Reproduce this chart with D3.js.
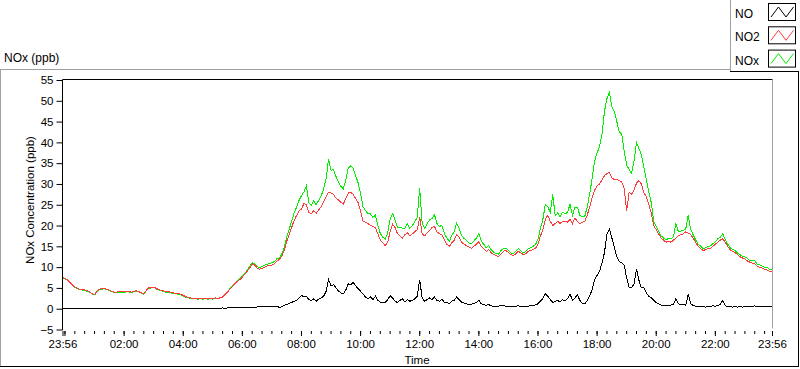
<!DOCTYPE html>
<html>
<head>
<meta charset="utf-8">
<script src="https://cdn.jsdelivr.net/npm/d3@7"></script>
<style>
    body { margin: 0; background: #fff; }
    text { font-family: "Liberation Sans", Arial, sans-serif; }
</style>
</head>
<body>
<div id="chart"></div>
<script>
/**------------------------------------------------------------------------
 *                          NOx CONCENTRATION CHART
 *------------------------------------------------------------------------**/

// one sample every 5 minutes, from 23:56 to 23:56 the next day
var startTime = new Date(2020, 0, 1, 23, 56)
var endTime = new Date(2020, 0, 2, 23, 56)
var stepMinutes = 5

// NO (ppb), one row per hour
var noValues = [
    0.1, 0.0, 0.1, 0.0, 0.1, 0.0, 0.1, 0.1, 0.0, 0.1, 0.0, 0.1,
    0.0, 0.1, 0.0, 0.1, 0.0, 0.1, 0.0, 0.1, 0.1, 0.0, 0.1, 0.0,
    0.1, 0.0, 0.1, 0.0, 0.1, 0.0, 0.0, 0.1, 0.0, 0.1, 0.0, 0.1,
    0.0, 0.1, 0.0, 0.1, 0.0, 0.1, 0.0, 0.0, 0.1, 0.0, 0.1, 0.0,
    0.1, 0.0, 0.1, 0.0, 0.0, 0.1, 0.0, 0.1, 0.0, 0.1, 0.0, 0.1,
    0.0, 0.1, 0.1, 0.0, 0.1, 0.2, 0.1, 0.2, 0.2, 0.3, 0.2, 0.3,
    0.3, 0.2, 0.3, 0.4, 0.3, 0.4, 0.3, 0.4, 0.5, 0.4, 0.5, 0.4,
    0.5, 0.6, 0.5, 0.6, 0.3, 0.5, 0.8, 1.0, 1.3, 1.5, 1.8, 2.0,
    2.5, 3.2, 2.8, 3.0, 2.2, 2.0, 2.4, 1.8, 2.3, 2.6, 3.0, 4.2,
    7.0, 5.5, 5.8, 5.0, 4.3, 3.8, 3.6, 4.5, 6.0, 5.8, 6.3, 5.5,
    4.8, 4.2, 3.5, 2.8, 2.4, 2.8, 2.2, 3.0, 2.0, 1.6, 1.4, 1.5,
    2.2, 3.1, 2.6, 1.8, 1.5, 2.0, 2.4, 1.6, 2.2, 1.8, 2.0, 2.4,
    3.0, 7.0, 2.5, 1.8, 2.2, 2.6, 2.2, 2.8, 2.0, 1.8, 2.2, 1.6,
    1.5, 1.2, 1.8, 2.0, 2.8, 2.2, 1.6, 1.4, 1.2, 1.0, 1.1, 1.3,
    1.5, 2.0, 1.2, 1.0, 0.8, 1.0, 0.7, 0.6, 0.5, 0.6, 0.8, 0.7,
    0.6, 0.5, 0.4, 0.5, 0.6, 0.7, 0.5, 0.4, 0.5, 0.6, 0.7, 0.8,
    0.9, 1.2, 1.8, 2.5, 3.6, 3.0, 2.2, 1.5, 1.8, 2.0, 1.6, 2.2,
    1.8, 2.4, 3.6, 2.0, 2.5, 3.4, 2.0, 1.3, 1.2, 2.0, 3.2, 4.5,
    7.0, 8.0, 9.0, 11.0, 13.5, 18.0, 19.2, 17.0, 14.8, 12.5, 11.4, 11.0,
    10.5, 7.4, 5.1, 5.0, 6.0, 9.6, 6.8, 5.0, 5.0, 3.8, 3.0, 2.6,
    2.0, 1.5, 1.2, 0.9, 0.8, 0.8, 0.7, 0.9, 1.0, 2.4, 1.2, 0.9,
    1.0, 0.8, 3.5, 1.2, 0.8, 0.6, 0.5, 0.6, 0.5, 0.4, 0.5, 0.6,
    0.7, 0.6, 0.8, 1.0, 2.0, 0.7, 0.6, 0.5, 0.4, 0.5, 0.4, 0.5,
    0.4, 0.5, 0.6, 0.4, 0.5, 0.7, 0.5, 0.6, 0.4, 0.5, 0.6, 0.5,
    0.5
]

// NO2 (ppb)
var no2Values = [
    7.6, 7.3, 6.9, 6.3, 5.7, 5.2, 4.9, 4.7, 4.6, 4.5, 4.3, 4.1,
    3.6, 3.4, 4.2, 4.7, 4.8, 4.9, 4.7, 4.5, 4.2, 4.0, 4.0, 4.1,
    4.1, 4.0, 4.2, 4.1, 4.0, 4.2, 4.3, 4.1, 3.8, 3.6, 4.4, 5.0,
    5.1, 5.2, 4.9, 4.6, 4.4, 4.3, 4.0, 4.1, 3.9, 3.8, 3.7, 3.6,
    3.5, 3.2, 2.9, 2.7, 2.6, 2.5, 2.5, 2.4, 2.5, 2.4, 2.5, 2.4,
    2.5, 2.4, 2.6, 2.5, 2.6, 2.8, 3.4, 4.0, 4.8, 5.4, 6.0, 6.6,
    7.0, 7.6, 8.3, 9.0, 9.8, 10.8, 10.5, 9.8, 9.5, 9.7, 10.0, 10.3,
    10.3, 10.5, 10.8, 11.4, 11.9, 12.6, 14.0, 16.2, 17.8, 19.5, 21.2, 22.4,
    23.5, 24.0, 25.3, 25.0, 23.2, 22.8, 23.6, 23.0, 23.8, 24.5, 25.8, 27.0,
    28.0, 27.8, 27.5, 26.6, 26.2, 25.6, 25.2, 26.5, 27.8, 28.0, 27.5, 26.5,
    25.5, 23.5, 21.0, 20.8, 20.5, 20.0, 19.8, 19.5, 18.0, 16.5, 15.8, 15.2,
    16.0, 18.5, 20.3, 19.5, 18.0, 17.5, 17.0, 17.8, 18.3, 17.5, 18.0, 18.5,
    19.0, 22.0, 18.0, 17.5, 18.2, 18.8, 19.5, 19.8, 18.5, 18.0, 17.8, 16.5,
    15.5, 15.0, 15.8, 16.5, 17.8, 17.2, 16.0, 15.5, 15.2, 14.8, 14.5, 15.0,
    15.5, 16.2, 15.0, 14.5, 13.8, 14.2, 13.5, 13.0, 12.8, 12.5, 13.2, 13.8,
    14.0, 13.5, 13.0, 12.8, 13.2, 13.8, 13.5, 13.0, 13.2, 13.8, 14.0, 14.2,
    14.5, 15.5, 17.5, 19.0, 21.5, 22.5, 21.0, 20.0, 20.5, 21.0, 20.5, 21.0,
    21.0, 20.8, 21.5, 20.5, 21.8, 21.0, 20.5, 20.8, 21.0, 22.5, 24.5, 26.8,
    28.5, 29.5, 30.0, 31.0, 32.0, 32.5, 32.8, 31.5, 31.0, 31.2, 30.8, 30.5,
    29.0, 23.5, 28.0, 27.5, 28.5, 30.2, 30.8, 30.0, 27.8, 27.0, 25.0, 23.0,
    20.0, 19.0, 18.0, 17.0, 16.5, 16.0, 16.2, 16.0, 16.5, 17.0, 17.5, 17.8,
    18.0, 18.5, 18.2, 17.8, 17.0, 16.0, 15.0, 14.5, 14.0, 14.2, 14.5, 14.5,
    15.0, 15.5, 16.0, 16.5, 16.8, 16.0, 15.0, 14.2, 13.8, 13.5, 13.0, 12.5,
    12.2, 12.0, 11.5, 11.2, 11.0, 10.8, 10.2, 10.0, 9.8, 9.5, 9.3, 9.0,
    9.0
]

// NOx (ppb)
var noxValues = [
    7.3, 7.2, 6.8, 6.2, 5.6, 5.1, 4.8, 4.6, 4.5, 4.4, 4.2, 4.0,
    3.5, 3.3, 4.0, 4.6, 4.7, 4.8, 4.6, 4.4, 4.1, 3.9, 3.9, 4.0,
    4.0, 3.9, 4.1, 4.0, 3.9, 4.1, 4.2, 4.0, 3.7, 3.5, 4.3, 4.9,
    5.0, 5.1, 4.8, 4.5, 4.3, 4.2, 3.9, 4.0, 3.8, 3.7, 3.6, 3.5,
    3.4, 3.1, 2.8, 2.6, 2.5, 2.4, 2.4, 2.3, 2.4, 2.3, 2.4, 2.3,
    2.4, 2.3, 2.5, 2.4, 2.6, 2.8, 3.4, 4.1, 4.9, 5.6, 6.2, 6.8,
    7.2, 7.8, 8.5, 9.3, 10.1, 11.1, 10.8, 10.1, 9.9, 10.1, 10.5, 10.7,
    10.8, 11.1, 11.3, 12.0, 12.2, 13.1, 14.8, 17.2, 19.1, 21.0, 23.0, 24.4,
    26.0, 27.2, 28.1, 29.5, 25.4, 24.8, 26.0, 25.0, 26.1, 27.1, 28.8, 31.2,
    36.0, 33.3, 33.5, 31.8, 30.5, 29.4, 28.8, 31.0, 33.8, 34.4, 33.8, 32.0,
    30.3, 27.7, 24.5, 23.6, 22.9, 22.8, 22.0, 22.5, 20.0, 18.1, 17.2, 16.7,
    18.2, 21.6, 22.9, 21.3, 19.5, 19.5, 19.4, 19.4, 20.5, 19.3, 20.0, 20.9,
    22.0, 29.0, 20.5, 19.3, 20.4, 21.4, 21.7, 22.6, 20.5, 19.8, 20.0, 18.1,
    17.0, 16.2, 17.6, 18.5, 20.6, 19.4, 17.6, 16.9, 16.4, 15.8, 15.6, 16.3,
    17.0, 18.2, 16.2, 15.5, 14.6, 15.2, 14.2, 13.6, 13.3, 13.1, 14.0, 14.5,
    14.6, 14.0, 13.4, 13.3, 13.8, 14.5, 14.0, 13.4, 13.7, 14.4, 14.7, 15.0,
    15.4, 16.7, 19.3, 21.5, 25.1, 24.5, 23.2, 27.5, 22.3, 23.0, 22.1, 23.2,
    22.8, 23.2, 25.1, 22.5, 24.3, 24.4, 22.5, 22.1, 22.2, 24.5, 27.7, 31.3,
    35.5, 37.5, 39.0, 42.0, 47.5, 50.5, 52.0, 48.5, 47.5, 45.0, 42.5, 42.0,
    38.0, 34.5, 33.5, 32.5, 35.5, 40.0, 38.5, 37.0, 34.0, 31.0, 28.0, 25.5,
    21.0, 19.8, 18.5, 17.5, 17.0, 16.6, 16.9, 16.8, 17.3, 20.5, 18.5, 18.7,
    18.8, 19.2, 22.5, 19.0, 17.8, 16.6, 15.5, 15.1, 14.5, 14.6, 15.0, 15.1,
    15.6, 16.1, 16.8, 17.2, 18.0, 16.6, 15.6, 14.7, 14.2, 14.0, 13.4, 13.0,
    12.6, 12.5, 12.1, 11.6, 11.5, 11.5, 10.7, 10.6, 10.2, 10.0, 9.9, 9.5,
    9.4
]

var yTicks = [-5, 0, 5, 10, 15, 20, 25, 30, 35, 40, 45, 50, 55]
var xLabelHours = [2, 4, 6, 8, 10, 12, 14, 16, 18, 20, 22]

var seriesNames = ["NO", "NO2", "NOx"]
var seriesColors = ["#000000", "#ff3c3c", "#00f000"]

// page
var width = 800
var height = 369

// plot box
var plotLeft = 62.5
var plotRight = 772.5
var plotTop = 79.5
var plotBottom = 329.5

var svg = d3.select("#chart")
    .append("svg")
    .attr("width", width)
    .attr("height", height)

/**----------------------------------------------------------------------------------------
 *                                     SCALES
 *----------------------------------------------------------------------------------------**/
var x = d3.scaleTime()
    .domain([startTime, endTime])
    .range([plotLeft, plotRight - 0.5])

var y = d3.scaleLinear()
    .domain([-5, 55])
    .range([plotBottom, plotTop + 0.5])

function sampleTime(i) {
    return new Date(startTime.getTime() + i * stepMinutes * 60000)
}

/**----------------------------------------------------------------------------------------
 *                                     FRAMES
 *----------------------------------------------------------------------------------------**/
// outer panel: light edge top/left, dark edge bottom/right
svg.append("line").attr("x1", 0).attr("x2", 730).attr("y1", 69.5).attr("y2", 69.5)
    .attr("stroke", "#a0a0a0")
svg.append("line").attr("x1", 0.5).attr("x2", 0.5).attr("y1", 69.5).attr("y2", 367)
    .attr("stroke", "#a0a0a0")
svg.append("line").attr("x1", 0).attr("x2", 799).attr("y1", 366.5).attr("y2", 366.5)
    .attr("stroke", "#000")
svg.append("line").attr("x1", 798.5).attr("x2", 798.5).attr("y1", 0).attr("y2", 367)
    .attr("stroke", "#000")

// plot area
svg.append("line").attr("x1", plotLeft).attr("x2", plotRight).attr("y1", plotTop).attr("y2", plotTop)
    .attr("stroke", "#000")
svg.append("line").attr("x1", plotRight).attr("x2", plotRight).attr("y1", plotTop).attr("y2", plotBottom - 1)
    .attr("stroke", "#a0a0a0")

// title
svg.append("text")
    .attr("x", 4)
    .attr("y", 62)
    .attr("font-size", "12px")
    .text("NOx (ppb)")

/**----------------------------------------------------------------------------------------
 *                                     AXES
 *----------------------------------------------------------------------------------------**/
var yAxis = svg.append("g")
    .attr("transform", "translate(" + plotLeft + ",0)")
    .call(d3.axisLeft(y).tickValues(yTicks).tickSize(6).tickPadding(3))
yAxis.select(".domain").attr("d", "M0," + plotTop + "V" + (plotBottom + 0.5))
yAxis.selectAll("text").attr("font-size", "11.5px").attr("font-family", null).attr("fill", "#000")

// x axis: minor ticks every 20 min, major ticks every 2 h and at both ends
var minorTimes = d3.timeMinute.every(20).range(startTime, endTime)
var majorTimes = [startTime].concat(d3.timeHour.every(2).range(startTime, endTime), [endTime])

var xMinor = svg.append("g")
    .attr("transform", "translate(0," + (plotBottom + 1.5) + ")")
    .call(d3.axisBottom(x).tickValues(minorTimes).tickSize(3).tickFormat(""))
xMinor.select(".domain").remove()

var xMajor = svg.append("g")
    .attr("transform", "translate(0," + (plotBottom + 1.5) + ")")
    .call(d3.axisBottom(x).tickValues(majorTimes).tickSize(5).tickPadding(4)
        .tickFormat(function(d) {
            if (+d == +startTime || +d == +endTime) return "23:56"
            if (xLabelHours.indexOf(d.getHours()) < 0) return ""
            return d3.timeFormat("%H:%M")(d)
        }))
xMajor.select(".domain").remove()
xMajor.selectAll("text").attr("font-size", "11.5px").attr("font-family", null).attr("fill", "#000")

// axis titles
svg.append("text")
    .attr("x", (plotLeft + plotRight) / 2 - 0.5)
    .attr("y", 364)
    .attr("font-size", "11.5px")
    .attr("text-anchor", "middle")
    .text("Time")

svg.append("text")
    .attr("transform", "translate(34," + 200 + ") rotate(-90)")
    .attr("font-size", "11.5px")
    .attr("text-anchor", "middle")
    .text("NOx Concentration (ppb)")

/**----------------------------------------------------------------------------------------
 *                                     LINES
 *----------------------------------------------------------------------------------------**/
svg.append("clipPath").attr("id", "plotclip")
    .append("rect")
    .attr("x", plotLeft + 0.5).attr("y", plotTop + 0.5)
    .attr("width", plotRight - plotLeft - 1).attr("height", plotBottom - plotTop)

var line = d3.line()
    .x(function(d, i) { return x(sampleTime(i)) })
    .y(function(d) { return y(d) })

var plotG = svg.append("g").attr("clip-path", "url(#plotclip)")

// NOx underneath, then NO2, then NO; drawn aliased like the original instrument plot
var drawOrder = [[noxValues, 2], [no2Values, 1], [noValues, 0]]
drawOrder.forEach(function(s) {
    plotG.append("path")
        .datum(s[0])
        .attr("fill", "none")
        .attr("stroke", seriesColors[s[1]])
        .attr("stroke-width", 1)
        .attr("shape-rendering", "crispEdges")
        .attr("d", line)
})

/**----------------------------------------------------------------------------------------
 *                                     LEGEND
 *----------------------------------------------------------------------------------------**/
svg.append("rect")
    .attr("x", 730).attr("y", 0).attr("width", 69).attr("height", 72)
    .attr("fill", "#fff")
svg.append("line").attr("x1", 730.5).attr("x2", 730.5).attr("y1", 0).attr("y2", 72)
    .attr("stroke", "#a0a0a0")
svg.append("line").attr("x1", 730).attr("x2", 799).attr("y1", 71.5).attr("y2", 71.5)
    .attr("stroke", "#000")

var legend = svg.selectAll(".legend-item")
    .data(seriesNames)
    .enter().append("g")
    .attr("class", "legend-item")
    .attr("transform", function(d, i) { return "translate(0," + (i * 23.3) + ")" })

legend.append("text")
    .attr("x", 735)
    .attr("y", 18)
    .attr("font-size", "12px")
    .text(function(d) { return d })

legend.append("rect")
    .attr("x", 768.5).attr("y", 3.5)
    .attr("width", 27).attr("height", 17)
    .attr("fill", "#fff")
    .attr("stroke", "#000")

legend.append("path")
    .attr("fill", "none")
    .attr("stroke", function(d, i) { return seriesColors[i] })
    .attr("d", "M771,17 L778.5,7 L786,17 L793.5,7")
</script>
</body>
</html>
